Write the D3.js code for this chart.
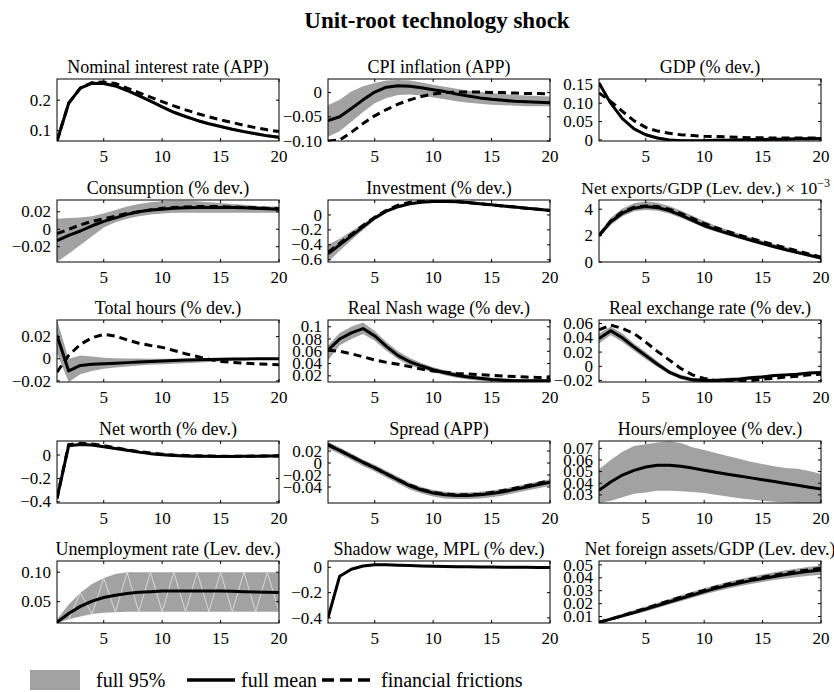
<!DOCTYPE html>
<html>
<head>
<meta charset="utf-8">
<script src="https://cdn.jsdelivr.net/npm/d3@7"></script>
<style>
  html, body { margin: 0; padding: 0; background: #fff; }
  svg { display: block; font-family: "Liberation Serif", "Times New Roman", serif; }
</style>
</head>
<body>
<svg id="chart" width="834" height="692"></svg>
<script>
// Impulse responses to a unit-root technology shock, quarters 1..20
const steps = d3.range(1, 21);

// Nominal interest rate (APP)
const rateMean = [.065,.19,.24,.256,.255,.247,.232,.215,.197,.178,.16,.146,.133,.122,.113,.104,.096,.089,.082,.077];
const rateHigh = [.068,.195,.245,.261,.26,.252,.237,.22,.202,.183,.165,.151,.138,.127,.118,.109,.101,.094,.087,.082];
const rateLow  = [.062,.185,.235,.251,.25,.242,.227,.21,.192,.173,.155,.141,.128,.117,.108,.099,.091,.084,.077,.072];
const rateFF   = [.065,.19,.24,.258,.26,.255,.24,.225,.21,.195,.181,.168,.156,.145,.135,.126,.117,.109,.102,.096];
const rateTicks = [0.1, 0.2];
const rateLabels = ["0.1", "0.2"];

// CPI inflation (APP)
const cpiMean = [-.058,-.05,-.033,-.015,.001,.011,.014,.013,.01,.006,.002,-.003,-.007,-.011,-.014,-.016,-.018,-.019,-.02,-.021];
const cpiHigh = [-.026,-.015,.002,.013,.02,.025,.026,.025,.021,.016,.012,.008,.004,.001,-.001,-.003,-.005,-.006,-.007,-.008];
const cpiLow  = [-.091,-.08,-.06,-.04,-.022,-.011,-.005,-.004,-.006,-.01,-.014,-.018,-.021,-.023,-.025,-.026,-.027,-.028,-.028,-.028];
const cpiFF   = [-.1,-.098,-.082,-.064,-.048,-.035,-.024,-.015,-.008,-.003,0,.001,.001,.001,0,0,-.001,-.002,-.002,-.003];
const cpiTicks = [-0.1, -0.05, 0];
const cpiLabels = ["\u22120.10", "\u22120.05", "0"];

// GDP (% dev.)
const gdpMean = [.155,.1,.058,.03,.014,.005,0,-.002,-.002,-.002,-.001,-.001,0,.001,.001,.002,.002,.003,.003,.004];
const gdpHigh = [.16,.104,.062,.034,.018,.009,.004,.002,.002,.002,.003,.003,.004,.005,.005,.006,.006,.007,.007,.008];
const gdpLow  = [.15,.096,.054,.026,.01,.001,-.004,-.006,-.006,-.006,-.005,-.005,-.004,-.003,-.003,-.002,-.002,-.001,-.001,0];
const gdpFF   = [.128,.105,.078,.052,.034,.024,.018,.014,.012,.01,.009,.008,.007,.006,.006,.005,.005,.005,.005,.005];
const gdpTicks = [0, 0.05, 0.1, 0.15];
const gdpLabels = ["0", "0.05", "0.10", "0.15"];

// Consumption (% dev.)
const consMean = [-.013,-.007,-.002,.004,.009,.013,.017,.02,.022,.023,.024,.0245,.025,.025,.025,.025,.0245,.024,.0235,.023];
const consHigh = [.012,.013,.0135,.015,.018,.022,.026,.029,.031,.032,.0325,.0325,.032,.031,.03,.029,.028,.027,.026,.026];
const consLow  = [-.0375,-.028,-.018,-.008,.002,.008,.012,.015,.017,.018,.019,.019,.019,.019,.019,.019,.019,.019,.019,.019];
const consFF   = [-.005,0,.005,.009,.012,.015,.018,.02,.022,.024,.025,.0255,.026,.026,.026,.0255,.025,.0245,.024,.0235];
const consTicks = [-0.02, 0, 0.02];
const consLabels = ["\u22120.02", "0", "0.02"];

// Investment (% dev.)
const invMean = [-.52,-.4,-.28,-.16,-.04,.05,.11,.15,.17,.18,.18,.175,.165,.15,.135,.12,.105,.09,.075,.06];
const invHigh = [-.4,-.32,-.22,-.12,-.01,.07,.13,.165,.185,.195,.195,.19,.18,.165,.15,.135,.12,.105,.09,.075];
const invLow  = [-.63,-.48,-.34,-.2,-.07,.03,.09,.135,.155,.165,.165,.16,.15,.135,.12,.105,.09,.075,.06,.045];
const invFF   = [-.5,-.38,-.26,-.14,-.03,.06,.13,.17,.19,.195,.19,.18,.165,.15,.135,.12,.105,.09,.075,.06];
const invTicks = [-0.6, -0.4, -0.2, 0];
const invLabels = ["\u22120.6", "\u22120.4", "\u22120.2", "0"];

// Net exports/GDP (level deviation, x 10^-3)
const nxMean = [2.0,3.05,3.7,4.08,4.2,4.12,3.9,3.55,3.15,2.75,2.45,2.17,1.9,1.65,1.4,1.16,.93,.71,.5,.3];
const nxHigh = [2.2,3.35,4.05,4.45,4.6,4.5,4.25,3.9,3.5,3.1,2.75,2.45,2.15,1.88,1.62,1.37,1.13,.9,.67,.45];
const nxLow  = [1.85,2.8,3.45,3.85,3.95,3.88,3.68,3.35,2.97,2.6,2.3,2.02,1.76,1.51,1.27,1.04,.81,.6,.39,.18];
const nxFF   = [2.0,3.1,3.8,4.15,4.25,4.2,4.0,3.68,3.3,2.92,2.6,2.31,2.04,1.79,1.54,1.3,1.07,.84,.6,.38];
const nxTicks = [0, 2, 4];
const nxLabels = ["0", "2", "4"];

// Total hours (% dev.)
const hoursMean = [.021,-.011,-.006,-.005,-.0045,-.004,-.0035,-.003,-.0025,-.002,-.0015,-.0012,-.001,-.0007,-.0005,-.0003,-.0002,-.0001,0,0];
const hoursHigh = [.035,0,.003,.002,.001,.0005,.0003,.0002,.0001,0,0,0,.0002,.0003,.0005,.0005,.0005,.0005,.0005,.0005];
const hoursLow  = [.005,-.021,-.014,-.011,-.009,-.008,-.007,-.006,-.0055,-.005,-.0045,-.004,-.0035,-.003,-.0025,-.002,-.0015,-.001,-.0007,-.0005];
const hoursFF   = [-.012,.003,.013,.019,.022,.0205,.017,.014,.012,.0103,.0075,.0045,.002,-.0005,-.0025,-.0033,-.004,-.0045,-.005,-.0055];
const hoursTicks = [-0.02, 0, 0.02];
const hoursLabels = ["\u22120.02", "0", "0.02"];

// Real Nash wage (% dev.)
const wageMean = [.062,.08,.09,.097,.085,.068,.053,.043,.036,.03,.025,.021,.018,.016,.014,.013,.012,.012,.012,.012];
const wageHigh = [.07,.09,.1,.107,.093,.075,.06,.049,.041,.034,.029,.025,.022,.019,.017,.016,.015,.015,.015,.015];
const wageLow  = [.045,.07,.08,.088,.077,.061,.047,.037,.031,.026,.021,.017,.014,.012,.011,.01,.01,.01,.01,.01];
const wageFF   = [.062,.06,.056,.051,.046,.042,.039,.035,.031,.028,.026,.024,.023,.022,.021,.0195,.0188,.018,.0175,.017];
const wageTicks = [0.02, 0.04, 0.06, 0.08, 0.1];
const wageLabels = ["0.02", "0.04", "0.06", "0.08", "0.1"];

// Real exchange rate (% dev.)
const rerMean = [.039,.05,.04,.027,.015,.003,-.008,-.015,-.019,-.02,-.02,-.019,-.018,-.016,-.015,-.013,-.012,-.011,-.0095,-.0085];
const rerHigh = [.046,.056,.046,.032,.02,.007,-.005,-.012,-.016,-.017,-.017,-.016,-.015,-.0135,-.0125,-.011,-.01,-.009,-.0075,-.0065];
const rerLow  = [.032,.044,.034,.022,.01,-.001,-.011,-.018,-.022,-.023,-.023,-.022,-.021,-.019,-.0175,-.0155,-.014,-.013,-.0115,-.0105];
const rerFF   = [.051,.058,.053,.046,.034,.021,.009,-.003,-.012,-.017,-.02,-.021,-.021,-.02,-.018,-.017,-.015,-.014,-.012,-.011];
const rerTicks = [-0.02, 0, 0.02, 0.04, 0.06];
const rerLabels = ["\u22120.02", "0", "0.02", "0.04", "0.06"];

// Net worth (% dev.)
const nwMean = [-.37,.08,.09,.085,.07,.055,.04,.025,.012,.003,-.004,-.008,-.01,-.011,-.012,-.012,-.011,-.01,-.009,-.008];
const nwHigh = [-.35,.09,.1,.095,.08,.065,.05,.035,.022,.013,.006,.002,0,-.001,-.002,-.002,-.001,0,.001,.002];
const nwLow  = [-.39,.07,.08,.075,.06,.045,.03,.015,.002,-.007,-.014,-.018,-.02,-.021,-.022,-.022,-.021,-.02,-.019,-.018];
const nwFF   = [-.37,.09,.1,.095,.08,.062,.045,.03,.017,.007,0,-.004,-.007,-.009,-.01,-.01,-.01,-.009,-.008,-.007];
const nwTicks = [-0.4, -0.2, 0];
const nwLabels = ["\u22120.4", "\u22120.2", "0"];

// Spread (APP)
const spMean = [.03,.021,.011,.001,-.008,-.018,-.028,-.038,-.045,-.05,-.053,-.054,-.054,-.053,-.051,-.048,-.044,-.04,-.036,-.032];
const spHigh = [.035,.026,.016,.006,-.003,-.013,-.023,-.033,-.04,-.045,-.048,-.049,-.049,-.048,-.046,-.043,-.039,-.035,-.031,-.027];
const spLow  = [.024,.015,.005,-.005,-.014,-.024,-.034,-.044,-.051,-.056,-.059,-.06,-.06,-.059,-.057,-.054,-.05,-.046,-.042,-.038];
const spFF   = [.031,.021,.011,.001,-.008,-.018,-.028,-.037,-.044,-.049,-.052,-.053,-.053,-.052,-.049,-.046,-.042,-.038,-.034,-.029];
const spTicks = [-0.04, -0.02, 0, 0.02];
const spLabels = ["\u22120.04", "\u22120.02", "0", "0.02"];

// Hours/employee (% dev.)
const hpeMean = [.034,.041,.047,.051,.054,.0555,.0555,.0545,.053,.0512,.0495,.0478,.0462,.0446,.043,.0414,.0398,.0382,.0366,.035];
const hpeHigh = [.052,.06,.067,.072,.0735,.075,.076,.0745,.071,.0685,.066,.0635,.061,.0585,.0565,.0545,.053,.0525,.0505,.048];
const hpeLow  = [.023,.025,.028,.031,.032,.0335,.0335,.0332,.0325,.0315,.03,.0285,.027,.026,.025,.024,.0235,.023,.023,.023];
const hpeTicks = [0.03, 0.04, 0.05, 0.06, 0.07];
const hpeLabels = ["0.03", "0.04", "0.05", "0.06", "0.07"];

// Unemployment rate (Lev. dev.)
const unMean = [.015,.03,.042,.051,.057,.061,.064,.066,.067,.068,.068,.068,.068,.068,.068,.0675,.067,.0665,.066,.0655];
const unHigh = [.02,.045,.065,.08,.09,.097,.1,.1,.1,.1,.1,.1,.1,.1,.1,.1,.1,.1,.1,.1];
const unLow  = [.0138,.02,.025,.029,.031,.032,.033,.033,.033,.033,.033,.033,.033,.033,.033,.033,.033,.033,.033,.033];
const unTicks = [0.05, 0.1];
const unLabels = ["0.05", "0.10"];

// Shadow wage, MPL (% dev.)
const shMean = [-.4,-.07,-.015,.01,.02,.02,.017,.014,.011,.009,.007,.005,.004,.003,.002,.001,0,0,-.001,-.001];
const shHigh = [-.39,-.06,-.006,.018,.027,.027,.024,.021,.018,.016,.014,.012,.011,.01,.009,.008,.007,.007,.006,.006];
const shLow  = [-.41,-.08,-.024,.002,.013,.013,.01,.007,.004,.002,0,-.002,-.003,-.004,-.005,-.006,-.007,-.007,-.008,-.008];
const shTicks = [-0.4, -0.2, 0];
const shLabels = ["\u22120.4", "\u22120.2", "0"];

// Net foreign assets/GDP (Lev. dev.)
const nfaMean = [.0055,.008,.0105,.013,.0157,.0185,.0213,.024,.0267,.0293,.0318,.034,.036,.0378,.0395,.041,.0425,.0438,.045,.046];
const nfaHigh = [.0065,.0095,.0122,.015,.0178,.0207,.0236,.0264,.0292,.0319,.0345,.0368,.0389,.0408,.0426,.0442,.0458,.0472,.0485,.0496];
const nfaLow  = [.0048,.007,.0092,.0115,.014,.0166,.0193,.0219,.0245,.027,.0294,.0316,.0335,.0352,.0368,.0382,.0395,.0406,.0416,.0424];
const nfaFF   = [.0055,.008,.0107,.0135,.0163,.0192,.0221,.0249,.0277,.0303,.0328,.035,.037,.0388,.0405,.042,.0435,.0449,.0462,.0474];
const nfaTicks = [0.01, 0.02, 0.03, 0.04, 0.05];
const nfaLabels = ["0.01", "0.02", "0.03", "0.04", "0.05"];

const xTicks = [5, 10, 15, 20];
const legendLabels = ["full 95%", "full mean", "financial frictions"];

const panels = [
  { title: "Nominal interest rate (APP)", mean: rateMean, high: rateHigh, low: rateLow, ff: rateFF, domain: [0.065, 0.27], ticks: rateTicks, labels: rateLabels },
  { title: "CPI inflation (APP)", mean: cpiMean, high: cpiHigh, low: cpiLow, ff: cpiFF, domain: [-0.1, 0.028], ticks: cpiTicks, labels: cpiLabels },
  { title: "GDP (% dev.)", mean: gdpMean, high: gdpHigh, low: gdpLow, ff: gdpFF, domain: [-0.003, 0.166], ticks: gdpTicks, labels: gdpLabels },
  { title: "Consumption (% dev.)", mean: consMean, high: consHigh, low: consLow, ff: consFF, domain: [-0.0375, 0.0335], ticks: consTicks, labels: consLabels },
  { title: "Investment (% dev.)", mean: invMean, high: invHigh, low: invLow, ff: invFF, domain: [-0.63, 0.2], ticks: invTicks, labels: invLabels },
  { title: "Net exports/GDP (Lev. dev.) \u00d7 10", sup: "\u22123", mean: nxMean, high: nxHigh, low: nxLow, ff: nxFF, domain: [0, 4.7], ticks: nxTicks, labels: nxLabels },
  { title: "Total hours (% dev.)", mean: hoursMean, high: hoursHigh, low: hoursLow, ff: hoursFF, domain: [-0.021, 0.035], ticks: hoursTicks, labels: hoursLabels },
  { title: "Real Nash wage (% dev.)", mean: wageMean, high: wageHigh, low: wageLow, ff: wageFF, domain: [0.01, 0.111], ticks: wageTicks, labels: wageLabels },
  { title: "Real exchange rate (% dev.)", mean: rerMean, high: rerHigh, low: rerLow, ff: rerFF, domain: [-0.022, 0.065], ticks: rerTicks, labels: rerLabels },
  { title: "Net worth (% dev.)", mean: nwMean, high: nwHigh, low: nwLow, ff: nwFF, domain: [-0.41, 0.12], ticks: nwTicks, labels: nwLabels },
  { title: "Spread (APP)", mean: spMean, high: spHigh, low: spLow, ff: spFF, domain: [-0.0667, 0.0367], ticks: spTicks, labels: spLabels },
  { title: "Hours/employee (% dev.)", mean: hpeMean, high: hpeHigh, low: hpeLow, ff: null, domain: [0.023, 0.0763], ticks: hpeTicks, labels: hpeLabels },
  { title: "Unemployment rate (Lev. dev.)", mean: unMean, high: unHigh, low: unLow, ff: null, domain: [0.0138, 0.119], ticks: unTicks, labels: unLabels, zigzag: true },
  { title: "Shadow wage, MPL (% dev.)", mean: shMean, high: shHigh, low: shLow, ff: null, domain: [-0.44, 0.05], ticks: shTicks, labels: shLabels },
  { title: "Net foreign assets/GDP (Lev. dev.)", mean: nfaMean, high: nfaHigh, low: nfaLow, ff: nfaFF, domain: [0.005, 0.053], ticks: nfaTicks, labels: nfaLabels }
];

const svg = d3.select("#chart");
const colLeft = [57, 328, 599];
const rowTop = [79, 200, 320, 441, 561];
const pw = 222, ph = 62;
const bandColor = "#a2a2a2";

svg.append("text")
  .attr("x", 437).attr("y", 28)
  .attr("text-anchor", "middle")
  .attr("font-size", 23).attr("font-weight", "bold")
  .text("Unit-root technology shock");

panels.forEach((p, i) => {
  const left = colLeft[i % 3], top = rowTop[Math.floor(i / 3)];
  const g = svg.append("g").attr("transform", `translate(${left},${top})`);
  const x = d3.scaleLinear().domain([1, 20]).range([0, pw]);
  const y = d3.scaleLinear().domain(p.domain).range([ph, 0]);

  const clipId = "clip" + i;
  g.append("clipPath").attr("id", clipId)
    .append("rect").attr("width", pw).attr("height", ph);
  const plot = g.append("g").attr("clip-path", `url(#${clipId})`);

  // 95% band
  const area = d3.area()
    .x((d, k) => x(steps[k]))
    .y0((d, k) => y(p.low[k]))
    .y1((d, k) => y(p.high[k]));
  plot.append("path").datum(p.mean).attr("d", area).attr("fill", bandColor);

  // light seams inside the band fill
  if (p.zigzag) {
    plot.append("path").datum(p.mean.slice(1)).attr("d", d3.line()
        .x((d, k) => x(steps[k + 1]))
        .y((d, k) => y((k % 2 === 0) ? p.low[k + 1] : p.high[k + 1]))
      )
      .attr("fill", "none").attr("stroke", "#e4e4e4").attr("stroke-width", 0.8);
  }

  const line = d3.line().x((d, k) => x(steps[k])).y(d => y(d));
  plot.append("path").datum(p.mean).attr("d", line)
    .attr("fill", "none").attr("stroke", "#000").attr("stroke-width", 3)
    .attr("stroke-linejoin", "round");
  if (p.ff) {
    plot.append("path").datum(p.ff).attr("d", line)
      .attr("fill", "none").attr("stroke", "#000").attr("stroke-width", 3)
      .attr("stroke-dasharray", "8,5");
  }

  // box with inward ticks on all four sides
  g.append("rect").attr("width", pw).attr("height", ph)
    .attr("fill", "none").attr("stroke", "#000").attr("stroke-width", 1);
  const tl = 3;
  xTicks.forEach(t => {
    g.append("line").attr("x1", x(t)).attr("x2", x(t)).attr("y1", ph).attr("y2", ph - tl).attr("stroke", "#000");
    g.append("line").attr("x1", x(t)).attr("x2", x(t)).attr("y1", 0).attr("y2", tl).attr("stroke", "#000");
    g.append("text").attr("x", x(t)).attr("y", ph + 21)
      .attr("text-anchor", "middle").attr("font-size", 17).text(t);
  });
  p.ticks.forEach((t, k) => {
    g.append("line").attr("x1", 0).attr("x2", tl).attr("y1", y(t)).attr("y2", y(t)).attr("stroke", "#000");
    g.append("line").attr("x1", pw).attr("x2", pw - tl).attr("y1", y(t)).attr("y2", y(t)).attr("stroke", "#000");
    g.append("text").attr("x", -6).attr("y", y(t))
      .attr("dy", "0.33em")
      .attr("text-anchor", "end").attr("font-size", 17).text(p.labels[k]);
  });

  // panel title; the long one with a superscript is right-aligned to stay inside the page
  const title = g.append("text")
    .attr("x", p.sup ? pw + 9 : pw / 2).attr("y", -6)
    .attr("text-anchor", p.sup ? "end" : "middle")
    .attr("font-size", p.sup ? 17.5 : 18).text(p.title);
  if (p.sup) {
    title.append("tspan").attr("dy", -7).attr("font-size", 12).text(p.sup);
  }
});

// legend
const lg = svg.append("g").attr("transform", "translate(0,680)");
lg.append("rect").attr("x", 30).attr("y", -10).attr("width", 50).attr("height", 20).attr("fill", bandColor);
lg.append("text").attr("x", 96).attr("y", 7).attr("font-size", 20).text(legendLabels[0]);
lg.append("line").attr("x1", 187).attr("x2", 235).attr("y1", 0).attr("y2", 0)
  .attr("stroke", "#000").attr("stroke-width", 3.5);
lg.append("text").attr("x", 241).attr("y", 7).attr("font-size", 20).text(legendLabels[1]);
lg.append("line").attr("x1", 322).attr("x2", 375).attr("y1", 0).attr("y2", 0)
  .attr("stroke", "#000").attr("stroke-width", 3.5).attr("stroke-dasharray", "12,6");
lg.append("text").attr("x", 381).attr("y", 7).attr("font-size", 20).text(legendLabels[2]);
</script>
</body>
</html>
